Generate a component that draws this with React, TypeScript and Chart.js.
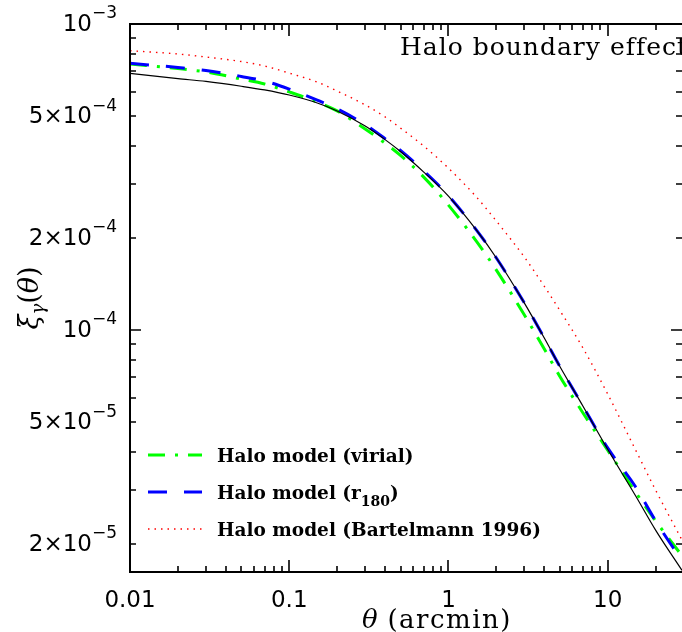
import { useEffect, useRef } from 'react';
import { Chart, registerables } from 'chart.js';

Chart.register(...registerables);

// ---------- data ----------
const thetaArcmin = [0.01, 0.02, 0.03, 0.05, 0.07, 0.1, 0.15, 0.2, 0.3, 0.4, 0.5, 0.7, 1, 1.5, 2, 3, 4, 5, 7, 10, 15, 20, 29.3];

const xiReference = [6.9e-4, 6.63e-4, 6.49e-4, 6.26e-4, 6.09e-4, 5.86e-4, 5.52e-4, 5.2e-4, 4.64e-4, 4.19e-4, 3.83e-4, 3.28e-4, 2.74e-4, 2.12e-4, 1.72e-4, 1.225e-4, 9.42e-5, 7.62e-5, 5.64e-5, 4.08e-5, 2.87e-5, 2.22e-5, 1.64e-5];
const xiVirial = [7.4e-4, 7.15e-4, 6.97e-4, 6.61e-4, 6.37e-4, 6.0e-4, 5.56e-4, 5.2e-4, 4.54e-4, 4.08e-4, 3.72e-4, 3.16e-4, 2.56e-4, 1.95e-4, 1.57e-4, 1.12e-4, 8.67e-5, 7.07e-5, 5.36e-5, 4.05e-5, 2.95e-5, 2.38e-5, 1.83e-5];
const xiR180 = [7.44e-4, 7.21e-4, 7.05e-4, 6.74e-4, 6.51e-4, 6.13e-4, 5.64e-4, 5.28e-4, 4.69e-4, 4.22e-4, 3.86e-4, 3.31e-4, 2.75e-4, 2.12e-4, 1.72e-4, 1.225e-4, 9.42e-5, 7.62e-5, 5.64e-5, 4.12e-5, 3.07e-5, 2.38e-5, 1.76e-5];
const xiBartelmann = [8.18e-4, 7.98e-4, 7.8e-4, 7.54e-4, 7.29e-4, 6.91e-4, 6.46e-4, 6.04e-4, 5.44e-4, 4.97e-4, 4.57e-4, 3.99e-4, 3.38e-4, 2.72e-4, 2.27e-4, 1.73e-4, 1.39e-4, 1.16e-4, 8.73e-5, 6.18e-5, 4.05e-5, 3.0e-5, 2.06e-5];

const seriesLabels = ['Halo model (virial)', 'Halo model (r_{180})', 'Halo model (Bartelmann 1996)'];

const xMin = 0.01;
const xMax = 29.3;
const yMin = 1.62e-5;
const yMax = 1e-3;

const xLabelValues = [0.01, 0.1, 1, 10];
const xLabelTexts = ['0.01', '0.1', '1', '10'];
const yLabelValues = [1e-3, 5e-4, 2e-4, 1e-4, 5e-5, 2e-5];
const yLabelMantissa = ['10', '5\u00d710', '2\u00d710', '10', '5\u00d710', '2\u00d710'];
const yLabelExponent = ['\u22123', '\u22124', '\u22124', '\u22124', '\u22125', '\u22125'];

const xTitleSymbol = '\u03b8';
const xTitleUnit = ' (arcmin)';
const annotationText = 'Halo boundary effect';

// ---------- helpers ----------
function logTicks(min: number, max: number) {
  const out: { v: number; major: boolean }[] = [];
  const d0 = Math.floor(Math.log10(min));
  const d1 = Math.ceil(Math.log10(max));
  for (let d = d0; d <= d1; d++) {
    for (let m = 1; m <= 9; m++) {
      const v = m * Math.pow(10, d);
      if (v >= min * 0.999 && v <= max * 1.001) out.push({ v, major: m === 1 });
    }
  }
  return out;
}

const framePlugin = {
  id: 'frameAndText',
  afterDatasetsDraw(chart: any) {
    const { ctx, chartArea: a, scales } = chart;
    const xs = scales.x;
    const ys = scales.y;
    ctx.save();
    ctx.strokeStyle = '#000';
    ctx.fillStyle = '#000';

    // frame
    ctx.lineWidth = 2;
    ctx.beginPath();
    ctx.moveTo(a.left, a.top);
    ctx.lineTo(a.right + 4, a.top);
    ctx.moveTo(a.left, a.top - 1);
    ctx.lineTo(a.left, a.bottom + 1);
    ctx.moveTo(a.left, a.bottom);
    ctx.lineTo(a.right + 4, a.bottom);
    ctx.stroke();

    // ticks
    ctx.lineWidth = 1.6;
    ctx.beginPath();
    for (const t of logTicks(xMin, xMax)) {
      const px = Math.round(xs.getPixelForValue(t.v));
      const len = t.major ? 12 : 6;
      ctx.moveTo(px, a.bottom);
      ctx.lineTo(px, a.bottom - len);
      ctx.moveTo(px, a.top);
      ctx.lineTo(px, a.top + len);
    }
    for (const t of logTicks(yMin, yMax)) {
      const py = Math.round(ys.getPixelForValue(t.v));
      const len = t.major ? 11 : 6;
      ctx.moveTo(a.left, py);
      ctx.lineTo(a.left + len, py);
      ctx.moveTo(a.right, py);
      ctx.lineTo(a.right - len, py);
    }
    ctx.stroke();

    // x tick labels
    ctx.font = '23px "DejaVu Sans"';
    ctx.textAlign = 'center';
    ctx.textBaseline = 'middle';
    xLabelValues.forEach((v, i) => {
      ctx.fillText(xLabelTexts[i], xs.getPixelForValue(v), a.bottom + 29);
    });

    // y tick labels with superscripts
    const labelRight = a.left - 13;
    yLabelValues.forEach((v, i) => {
      const py = ys.getPixelForValue(v);
      ctx.textAlign = 'left';
      ctx.textBaseline = 'middle';
      ctx.font = '17px "DejaVu Sans"';
      const w2 = ctx.measureText(yLabelExponent[i]).width;
      ctx.font = '23px "DejaVu Sans"';
      const w1 = ctx.measureText(yLabelMantissa[i]).width;
      ctx.fillText(yLabelMantissa[i], labelRight - w2 - w1, py + 1);
      ctx.font = '17px "DejaVu Sans"';
      ctx.fillText(yLabelExponent[i], labelRight - w2, py - 10);
    });

    // x axis title
    ctx.textAlign = 'left';
    ctx.textBaseline = 'alphabetic';
    ctx.font = 'italic 26px "DejaVu Serif"';
    const xtY = 628;
    const xtX = a.left + 232;
    ctx.fillText(xTitleSymbol, xtX, xtY);
    const wSym = ctx.measureText(xTitleSymbol).width;
    ctx.font = '26px "DejaVu Serif"';
    (ctx as any).letterSpacing = '1.5px';
    ctx.fillText(xTitleUnit, xtX + wSym, xtY);
    (ctx as any).letterSpacing = '0px';

    // y axis title (rotated): xi_gamma(theta)
    ctx.save();
    ctx.translate(38, (a.top + a.bottom) / 2);
    ctx.rotate(-Math.PI / 2);
    const parts = [
      { t: '\u03be', f: 'italic 27px "DejaVu Serif"', dy: 0 },
      { t: '\u03b3', f: 'italic 18px "DejaVu Serif"', dy: 6 },
      { t: '(', f: '27px "DejaVu Serif"', dy: 0 },
      { t: '\u03b8', f: 'italic 27px "DejaVu Serif"', dy: 0 },
      { t: ')', f: '27px "DejaVu Serif"', dy: 0 },
    ];
    let total = 0;
    for (const p of parts) {
      ctx.font = p.f;
      total += ctx.measureText(p.t).width;
    }
    let cx = -total / 2;
    ctx.textAlign = 'left';
    ctx.textBaseline = 'alphabetic';
    for (const p of parts) {
      ctx.font = p.f;
      ctx.fillText(p.t, cx, p.dy);
      cx += ctx.measureText(p.t).width;
    }
    ctx.restore();

    // annotation
    ctx.font = '25px "DejaVu Serif"';
    (ctx as any).letterSpacing = '1px';
    ctx.textAlign = 'left';
    ctx.textBaseline = 'alphabetic';
    ctx.fillText(annotationText, a.left + 270, a.top + 31);
    (ctx as any).letterSpacing = '0px';

    // legend
    const rows = [455, 492, 529];
    const ds = chart.data.datasets.filter((d: any) => d.label);
    ds.forEach((d: any, i: number) => {
      const y = rows[i];
      ctx.save();
      ctx.strokeStyle = d.borderColor;
      ctx.lineWidth = d.borderWidth;
      ctx.setLineDash(d.borderDash || []);
      ctx.lineCap = 'butt';
      ctx.beginPath();
      ctx.moveTo(a.left + 18, y);
      ctx.lineTo(a.left + 72, y);
      ctx.stroke();
      ctx.restore();

      const label: string = d.label;
      const segs = label.split(/(_\{[^}]*\})/).filter((s) => s.length);
      let tx = a.left + 87;
      const base = y + 7;
      ctx.textAlign = 'left';
      ctx.textBaseline = 'alphabetic';
      for (const s of segs) {
        if (s.startsWith('_{')) {
          const sub = s.slice(2, -1);
          ctx.font = 'bold 14px "DejaVu Serif"';
          ctx.fillText(sub, tx, base + 7);
          tx += ctx.measureText(sub).width;
        } else {
          ctx.font = 'bold 18.5px "DejaVu Serif"';
          ctx.fillText(s, tx, base);
          tx += ctx.measureText(s).width;
        }
      }
    });

    ctx.restore();
  },
};

export default function App() {
  const ref = useRef<HTMLCanvasElement | null>(null);

  useEffect(() => {
    const canvas = ref.current;
    if (!canvas) return;
    const pts = (ys: number[]) => thetaArcmin.map((x, i) => ({ x, y: ys[i] }));
    const chart = new Chart(canvas, {
      type: 'line',
      data: {
        datasets: [
          {
            label: seriesLabels[0],
            data: pts(xiVirial),
            borderColor: '#00ff00',
            borderWidth: 3,
            borderDash: [17, 10, 3, 10],
            pointRadius: 0,
            cubicInterpolationMode: 'monotone',
            order: 2,
          },
          {
            label: seriesLabels[1],
            data: pts(xiR180),
            borderColor: '#0000ff',
            borderWidth: 3,
            borderDash: [19, 17],
            pointRadius: 0,
            cubicInterpolationMode: 'monotone',
            order: 1,
          },
          {
            label: seriesLabels[2],
            data: pts(xiBartelmann),
            borderColor: '#ff0000',
            borderWidth: 1.4,
            borderDash: [1.5, 5],
            pointRadius: 0,
            cubicInterpolationMode: 'monotone',
            order: 3,
          },
          {
            label: '',
            data: pts(xiReference),
            borderColor: '#000000',
            borderWidth: 1.2,
            pointRadius: 0,
            cubicInterpolationMode: 'monotone',
            order: 0,
          },
        ],
      },
      options: {
        animation: false,
        responsive: false,
        devicePixelRatio: 1,
        layout: { padding: { left: 130, top: 24, right: 0, bottom: 60 } },
        scales: {
          x: { type: 'logarithmic', display: false, min: xMin, max: xMax },
          y: { type: 'logarithmic', display: false, min: yMin, max: yMax },
        },
        plugins: {
          legend: { display: false },
          tooltip: { enabled: false },
        },
      },
      plugins: [framePlugin],
    });
    return () => chart.destroy();
  }, []);

  return (
    <div style={{ position: 'absolute', left: 0, top: 0, width: 682, height: 632, background: '#fff', overflow: 'hidden' }}>
      <canvas ref={ref} width={682} height={632} style={{ display: 'block' }} />
    </div>
  );
}
